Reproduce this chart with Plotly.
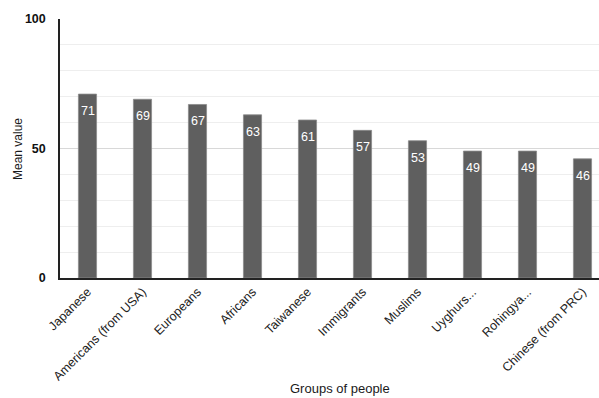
import plotly.graph_objects as go

categories = ["Japanese", "Americans (from USA)", "Europeans", "Africans", "Taiwanese",
              "Immigrants", "Muslims", "Uyghurs...", "Rohingya...", "Chinese (from PRC)"]
values = [71, 69, 67, 63, 61, 57, 53, 49, 49, 46]
y_ticks = [0, 50, 100]

FONT = "Liberation Sans, Arial, sans-serif"

fig = go.Figure()
fig.add_trace(go.Bar(
    x=categories, y=values,
    marker=dict(color="#5f5f5f", line=dict(color="#8a8a8a", width=0.8)),
    width=0.33,
    hoverinfo="skip",
))

for c, v in zip(categories, values):
    fig.add_annotation(x=c, y=v, xref="x", yref="y", text=str(v), showarrow=False,
                       yanchor="top", yshift=-8,
                       font=dict(family=FONT, size=12.5, color="white"))

fig.add_annotation(x=(340 - 60) / 539, y=-(388 - 278) / 259, xref="paper", yref="paper",
                   text="Groups of people", showarrow=False, xanchor="center", yanchor="middle",
                   font=dict(family=FONT, size=13, color="#1a1a1a"))
fig.add_annotation(x=(18 - 60) / 539, y=(278 - 149) / 259, xref="paper", yref="paper",
                   text="Mean value", showarrow=False, textangle=-90,
                   xanchor="center", yanchor="middle",
                   font=dict(family=FONT, size=12, color="#1a1a1a"))

fig.update_layout(
    width=599, height=398,
    margin=dict(l=60, r=0, t=19, b=120),
    paper_bgcolor="white", plot_bgcolor="white",
    showlegend=False,
    font=dict(family=FONT, color="#222222"),
    xaxis=dict(
        range=[-0.5, 9.3], tickangle=-45, showgrid=False,
        showline=True, linecolor="#222222", linewidth=1.5,
        tickfont=dict(family=FONT, size=12.5, color="#222222"),
        ticks="", automargin=False,
    ),
    yaxis=dict(
        range=[0, 100], tickvals=y_ticks, showline=True, linecolor="#222222", linewidth=1.5,
        gridcolor="#d8d8d8", gridwidth=1, zeroline=False,
        minor=dict(dtick=10, showgrid=True, gridcolor="#eeeeee", gridwidth=1),
        tickfont=dict(family=FONT, size=12.5, color="#111111", weight="bold"),
        ticks="", ticklabelstandoff=10, automargin=False,
    ),
)

fig.write_html("out.html")
